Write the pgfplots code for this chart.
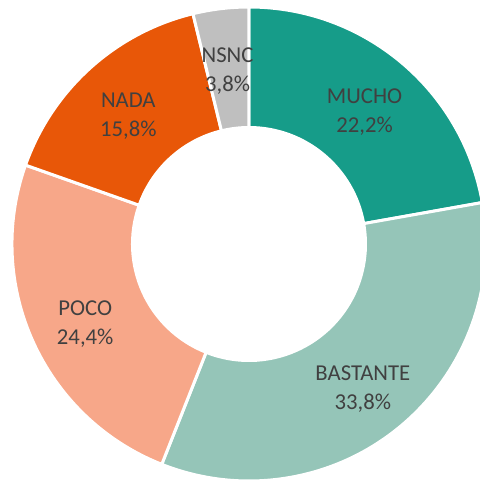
\documentclass[border=0pt]{standalone}
\usepackage{pgfplots}
\usepackage{pgfplotstable}
\pgfplotsset{compat=1.18}
\usepackage{fontspec}
\setmainfont{Carlito}
\definecolor{cA}{HTML}{169C89}
\definecolor{cB}{HTML}{95C5B8}
\definecolor{cC}{HTML}{F7A789}
\definecolor{cD}{HTML}{E85708}
\definecolor{cE}{HTML}{BFBFBF}
\definecolor{txt}{HTML}{404040}

\pgfplotstableread[col sep=comma]{
label,value,col
MUCHO,22.2,cA
BASTANTE,33.8,cB
POCO,24.4,cC
NADA,15.8,cD
NSNC,3.8,cE
}\donut

\def\cx{249}\def\cy{238}\def\Ro{237}\def\Ri{116.5}\def\Rl{180}

\begin{document}
\begin{tikzpicture}
\useasboundingbox (0,0) rectangle (480bp,482bp);
\xdef\cum{90}
\foreach \i in {0,...,4}{
  \pgfplotstablegetelem{\i}{value}\of\donut \global\let\v\pgfplotsretval
  \pgfplotstablegetelem{\i}{label}\of\donut \expandafter\global\expandafter\let\csname lab\i\endcsname\pgfplotsretval
  \pgfplotstablegetelem{\i}{col}\of\donut \expandafter\global\expandafter\let\csname col\i\endcsname\pgfplotsretval
  \expandafter\xdef\csname val\i\endcsname{\v}
  \pgfmathsetmacro\a{\cum}
  \pgfmathsetmacro\b{\cum-3.6*\v}
  \pgfmathsetmacro\m{(\a+\b)/2}
  \expandafter\xdef\csname sa\i\endcsname{\a}
  \expandafter\xdef\csname ea\i\endcsname{\b}
  \expandafter\xdef\csname ma\i\endcsname{\m}
  \xdef\cum{\b}
}
\begin{axis}[x=1bp,y=1bp,xmin=0,xmax=480,ymin=0,ymax=482,hide axis,clip=false,
  anchor=south west,at={(0,0)},enlargelimits=false]
\pgfplotsinvokeforeach{0,...,4}{
  \filldraw[fill=\csname col#1\endcsname, draw=white, line width=3bp, line join=miter]
    (axis cs:{\cx+\Ro*cos(\csname sa#1\endcsname)},{\cy+\Ro*sin(\csname sa#1\endcsname)})
    arc[start angle=\csname sa#1\endcsname, end angle=\csname ea#1\endcsname, radius=\Ro bp]
    -- (axis cs:{\cx+\Ri*cos(\csname ea#1\endcsname)},{\cy+\Ri*sin(\csname ea#1\endcsname)})
    arc[start angle=\csname ea#1\endcsname, end angle=\csname sa#1\endcsname, radius=\Ri bp]
    -- cycle;
  \node[text=txt, align=center, font=\fontsize{22.7bp}{29bp}\selectfont]
    at (axis cs:{\cx+\Rl*cos(\csname ma#1\endcsname)},{\cy+\Rl*sin(\csname ma#1\endcsname)-6})
    {\csname lab#1\endcsname\\\pgfmathprintnumber[fixed,fixed zerofill,precision=1,use comma,assume math mode=true]{\csname val#1\endcsname}\%};
}
\end{axis}
\end{tikzpicture}
\end{document}
